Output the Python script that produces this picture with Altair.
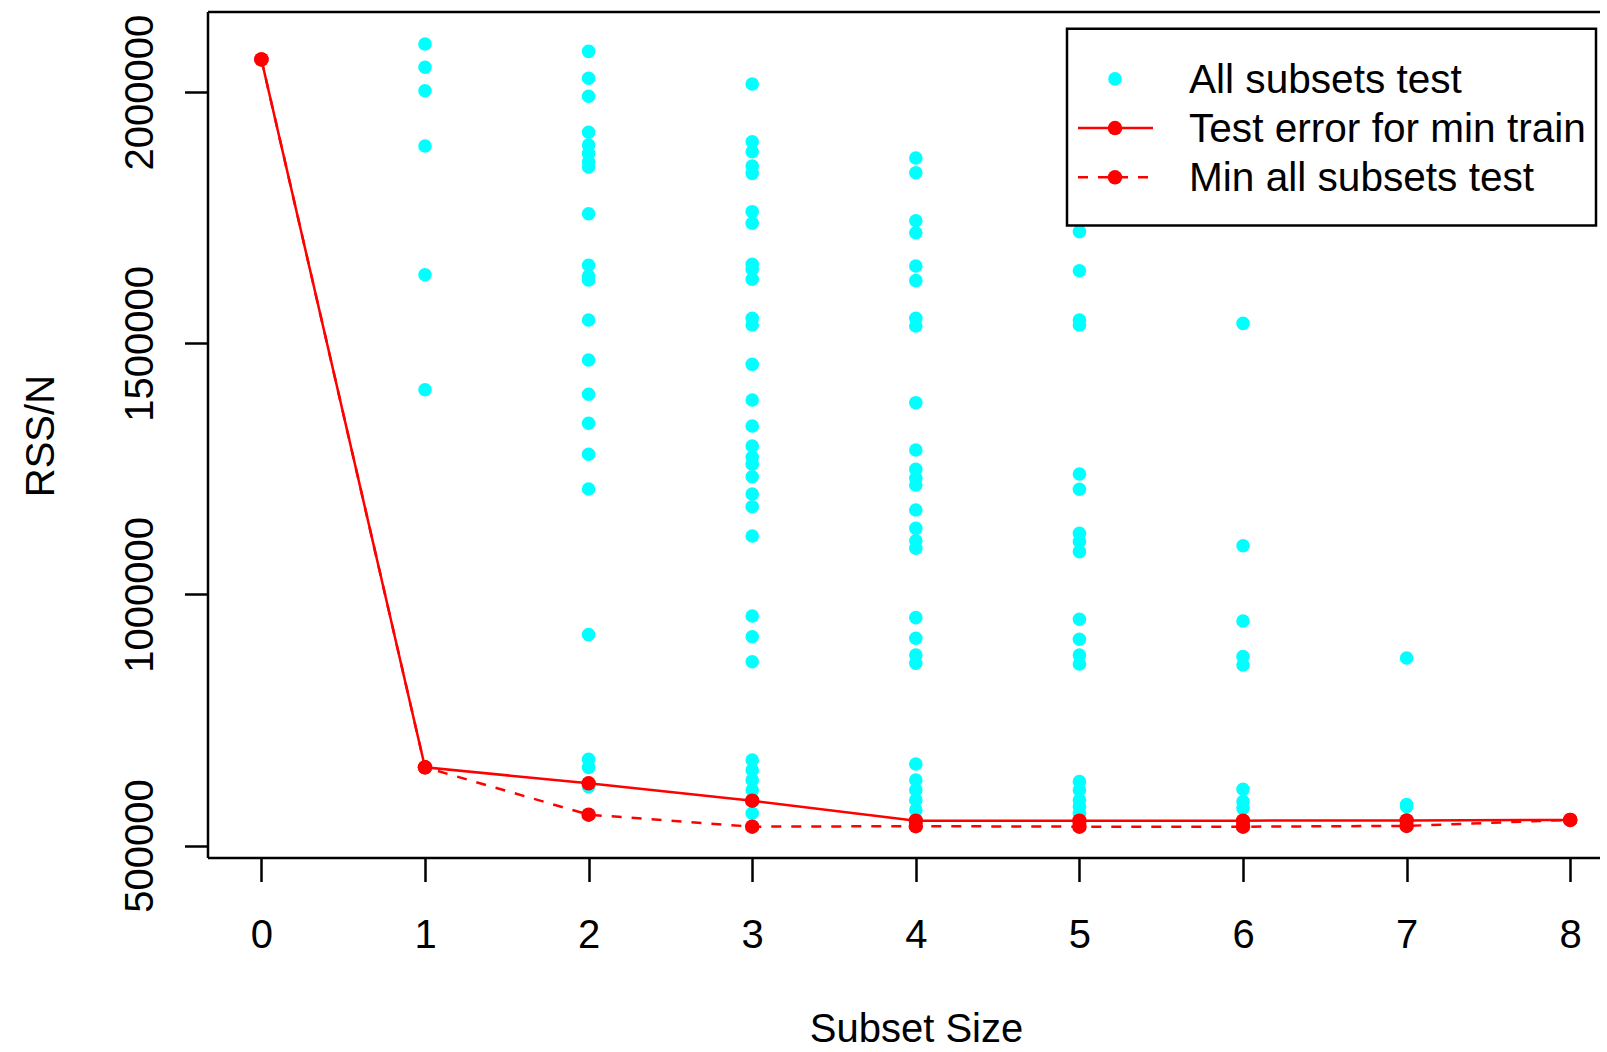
import altair as alt
import pandas as pd

# Test RSS/N of every subset, grouped by subset size
test_size1 = [2096060, 2049660, 2003070, 1892950, 1636670, 1407580, 655650]
test_size2 = [2081440, 2027740, 1991910, 1920230, 1894940, 1878370, 1861700, 1851130,
              1758140, 1655370, 1634090, 1626130, 1546480, 1466820, 1398480, 1340740,
              1279000, 1209930, 919850, 671600, 655650, 623900, 617140, 561380]
test_size3 = [2016400, 1901520, 1881600, 1853130, 1838500, 1762140, 1739000, 1657300,
              1647400, 1627500, 1549800, 1536500, 1458200, 1387200, 1335400, 1295600,
              1273000, 1259100, 1234400, 1200000, 1174700, 1116300, 957000, 915800,
              866000, 670300, 650400, 630500, 610600, 590700, 589200, 564200, 537500]
test_size4 = [1869000, 1839800, 1744200, 1720300, 1654000, 1624800, 1549800, 1534500,
              1381800, 1287600, 1249100, 1231200, 1217900, 1168100, 1131600, 1106900,
              1091800, 953700, 912600, 879400, 862800, 662300, 630500, 610600, 590700,
              570800, 550900, 549500, 538500]
test_size5 = [1722400, 1644600, 1546500, 1536500, 1239700, 1209300, 1121600, 1105000,
              1085100, 950500, 910600, 879400, 861400, 627100, 610600, 590700, 577400,
              564100, 549500, 537500]
test_size6 = [1539800, 1097000, 947100, 876100, 859500, 612000, 587300, 574000, 549500,
              537500]
test_size7 = [873400, 581700, 577500, 550000, 539000]

subset_sizes = [0, 1, 2, 3, 4, 5, 6, 7, 8]
# Test error of the subset with the smallest training error at each size
min_train_test = [2065300, 655650, 623900, 589200, 549500, 549500, 549500, 550000, 551000]
# Smallest test error over all subsets at each size
min_all_test = [2065300, 655650, 561380, 537500, 538500, 537500, 537500, 539000, 551000]

legend_labels = ["All subsets test", "Test error for min train", "Min all subsets test"]
y_ticks = [500000, 1000000, 1500000, 2000000]

CYAN = "#00FFFF"
RED = "#FF0000"
FONT = "Liberation Sans"
W, H = 1392, 846

groups = [test_size1, test_size2, test_size3, test_size4, test_size5, test_size6, test_size7]
pts = pd.DataFrame(
    [{"size": k + 1, "rss": v} for k, vals in enumerate(groups) for v in vals]
)
lines = pd.DataFrame({
    "size": subset_sizes * 2,
    "rss": min_train_test + min_all_test,
    "series": ["train"] * 9 + ["test"] * 9,
})

xs = alt.Scale(domain=[-0.3264, 8.182], nice=False, zero=False)
ys = alt.Scale(domain=[475110, 2159780], nice=False, zero=False)

x_axis = alt.Axis(
    values=list(range(9)), format="d", title="Subset Size", grid=False, domain=False,
    tickSize=23.5, tickWidth=2.5, tickColor="black",
    labelFont=FONT, labelFontSize=40, labelColor="black", labelPadding=34,
    labelBaseline="top", labelFlush=False, labelOverlap=False,
    titleFont=FONT, titleFontSize=40, titleFontWeight="normal", titleColor="black",
    titleX=708, titleY=183, titleBaseline="alphabetic", titleAlign="center",
)
y_axis = alt.Axis(
    values=y_ticks, format="d", title="RSS/N", grid=False, domain=False,
    tickSize=23.5, tickWidth=2.5, tickColor="black",
    labelFont=FONT, labelFontSize=40, labelColor="black", labelPadding=32,
    labelAngle=270, labelAlign="center", labelBaseline="alphabetic",
    labelFlush=False, labelOverlap=False,
    titleFont=FONT, titleFontSize=40, titleFontWeight="normal", titleColor="black",
    titleAngle=270, titleX=-155, titleY=423.6, titleAlign="center",
    titleBaseline="alphabetic",
)

cloud = alt.Chart(pts).mark_circle(size=185, color=CYAN, opacity=1).encode(
    x=alt.X("size:Q", scale=xs, axis=x_axis),
    y=alt.Y("rss:Q", scale=ys, axis=y_axis),
)

train_df = lines[lines.series == "train"]
test_df = lines[lines.series == "test"]

train_line = alt.Chart(train_df).mark_line(color=RED, strokeWidth=2.5).encode(
    x=alt.X("size:Q", scale=xs), y=alt.Y("rss:Q", scale=ys))
test_line = alt.Chart(test_df).mark_line(color=RED, strokeWidth=2.5, strokeDash=[10, 10]).encode(
    x=alt.X("size:Q", scale=xs), y=alt.Y("rss:Q", scale=ys))
train_pts = alt.Chart(train_df).mark_circle(size=210, color=RED, opacity=1).encode(
    x=alt.X("size:Q", scale=xs), y=alt.Y("rss:Q", scale=ys))
test_pts = alt.Chart(test_df).mark_circle(size=210, color=RED, opacity=1).encode(
    x=alt.X("size:Q", scale=xs), y=alt.Y("rss:Q", scale=ys))

one = alt.Data(values=[{}])

# Plot frame (left, top, bottom edges)
frame = alt.layer(
    alt.Chart(one).mark_rule(color="black", strokeWidth=2.5).encode(
        x=alt.value(0), y=alt.value(0), y2=alt.value(H)),
    alt.Chart(one).mark_rule(color="black", strokeWidth=2.5).encode(
        x=alt.value(0), x2=alt.value(W), y=alt.value(0)),
    alt.Chart(one).mark_rule(color="black", strokeWidth=2.5).encode(
        x=alt.value(0), x2=alt.value(W), y=alt.value(H)),
)

# Legend box
row_y = [68.9, 118.1, 167.3]
sym_x, line_x0, line_x1, text_x = 907, 870, 945, 981
legend_parts = [
    alt.Chart(one).mark_rect(fill="white", stroke="black", strokeWidth=2.5).encode(
        x=alt.value(859), x2=alt.value(1388), y=alt.value(16.7), y2=alt.value(213.5)),
    alt.Chart(one).mark_circle(size=185, color=CYAN, opacity=1).encode(
        x=alt.value(sym_x), y=alt.value(row_y[0] - 2)),
    alt.Chart(one).mark_rule(color=RED, strokeWidth=2.5).encode(
        x=alt.value(line_x0), x2=alt.value(line_x1), y=alt.value(row_y[1] - 2)),
    alt.Chart(one).mark_circle(size=210, color=RED, opacity=1).encode(
        x=alt.value(sym_x), y=alt.value(row_y[1] - 2)),
    alt.Chart(one).mark_rule(color=RED, strokeWidth=2.5, strokeDash=[10, 10]).encode(
        x=alt.value(line_x0), x2=alt.value(line_x1), y=alt.value(row_y[2] - 2)),
    alt.Chart(one).mark_circle(size=210, color=RED, opacity=1).encode(
        x=alt.value(sym_x), y=alt.value(row_y[2] - 2)),
]
for label, yy in zip(legend_labels, row_y):
    legend_parts.append(
        alt.Chart(one).mark_text(
            text=label, font=FONT, fontSize=40.6, color="black",
            align="left", baseline="middle",
        ).encode(x=alt.value(text_x), y=alt.value(yy))
    )

chart = alt.layer(
    cloud, train_line, test_line, train_pts, test_pts, frame, *legend_parts
).properties(
    width=W, height=H,
    autosize=alt.AutoSizeParams(type="none"),
    padding={"left": 208, "top": 12, "right": 0, "bottom": 192},
    background="white",
).configure_view(stroke=None)

chart.save("out.html", embed_options={"renderer": "svg", "actions": False})
